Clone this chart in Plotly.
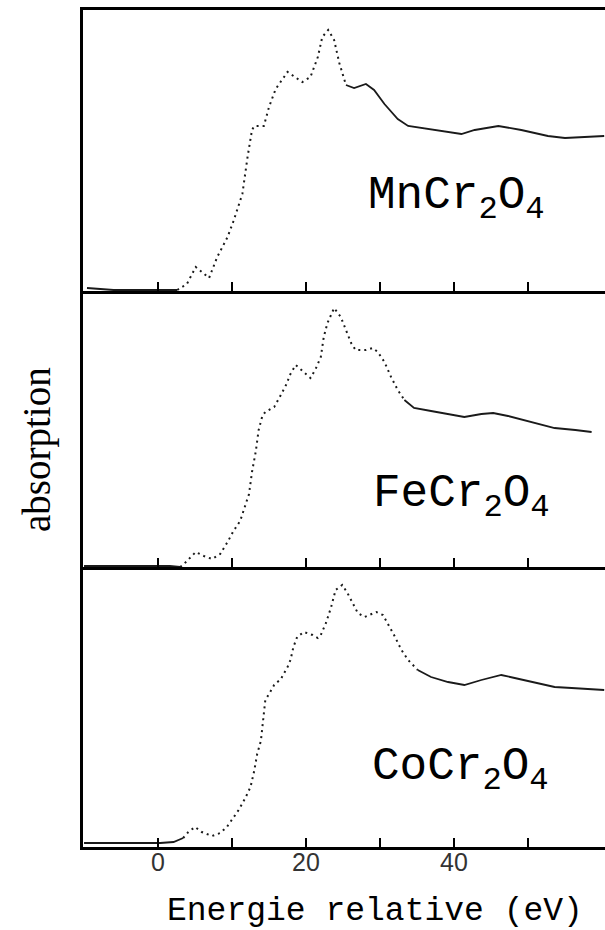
import plotly.graph_objects as go

# Cr K-edge XANES spectra of three chromite spinels (energy relative to edge, eV)
mn_energy = [-9.6, -6.0, 0.8, 2.6, 3.9, 5.1, 6.0, 6.9, 8.0, 9.4, 10.2, 11.4, 12.1, 12.7, 13.0,
             14.3, 15.0, 15.9, 17.5, 18.6, 19.5, 20.6, 21.6, 22.2, 23.0, 23.8, 24.5, 25.4,
             26.5, 28.1, 29.2, 30.6, 32.4, 33.8, 36.5, 39.2, 41.0, 42.8, 46.0, 49.1, 52.7,
             55.0, 60.3]
mn_absorb = [0.03, 0.01, 0.01, 0.01, 0.07, 0.24, 0.18, 0.13, 0.34, 0.54, 0.70, 0.97, 1.34, 1.61,
             1.65, 1.65, 1.84, 2.02, 2.19, 2.13, 2.09, 2.14, 2.34, 2.54, 2.61, 2.51, 2.28, 2.06,
             2.03, 2.07, 2.01, 1.87, 1.72, 1.65, 1.62, 1.59, 1.57, 1.61, 1.65, 1.61, 1.55,
             1.53, 1.55]

fe_energy = [-10.0, 1.6, 3.0, 3.5, 5.1, 6.2, 7.3, 8.4, 9.4, 10.2, 11.1, 11.8, 12.3, 12.7, 13.2,
             13.6, 14.1, 14.5, 15.7, 16.6, 17.3, 17.9, 18.6, 19.7, 20.6, 21.3, 22.0, 22.4,
             22.9, 23.8, 24.7, 25.4, 26.1, 26.7, 28.1, 29.0, 29.7, 30.6, 31.5, 32.4, 33.3,
             34.6, 36.9, 39.2, 41.4, 43.7, 45.3, 47.3, 50.5, 53.6, 56.4, 58.6]
fe_absorb = [0.01, 0.01, 0.00, 0.03, 0.15, 0.11, 0.08, 0.13, 0.25, 0.36, 0.46, 0.63, 0.73, 0.95,
             1.15, 1.37, 1.51, 1.55, 1.60, 1.72, 1.82, 1.93, 2.02, 1.95, 1.89, 1.98, 2.10, 2.30,
             2.44, 2.59, 2.50, 2.37, 2.24, 2.17, 2.17, 2.19, 2.15, 2.05, 1.90, 1.77, 1.67,
             1.59, 1.56, 1.53, 1.50, 1.53, 1.54, 1.51, 1.45, 1.39, 1.37, 1.35]

co_energy = [-10.0, -3.3, 0.3, 2.1, 3.4, 4.1, 5.0, 5.9, 7.3, 8.4, 9.3, 10.0, 10.9, 11.8, 12.5,
             13.0, 13.4, 13.9, 14.3, 14.5, 15.0, 15.7, 16.6, 17.5, 17.9, 18.3, 18.8, 19.7,
             20.9, 21.6, 22.0, 22.7, 23.4, 24.0, 24.9, 25.6, 26.3, 27.0, 27.9, 28.8, 29.5,
             30.4, 31.0, 31.9, 32.9, 33.8, 35.1, 36.9, 39.2, 41.4, 43.7, 46.4, 48.2, 50.5,
             53.6, 55.9, 60.3]
co_absorb = [0.04, 0.04, 0.04, 0.05, 0.09, 0.15, 0.20, 0.15, 0.11, 0.14, 0.20, 0.27, 0.37, 0.49,
             0.60, 0.76, 0.93, 1.06, 1.30, 1.47, 1.53, 1.62, 1.68, 1.80, 1.87, 2.00, 2.10, 2.15,
             2.12, 2.09, 2.12, 2.24, 2.40, 2.57, 2.62, 2.54, 2.44, 2.34, 2.30, 2.33, 2.35,
             2.32, 2.24, 2.12, 1.97, 1.87, 1.77, 1.70, 1.65, 1.62, 1.67, 1.72, 1.69, 1.65,
             1.60, 1.59, 1.57]

compounds = ["MnCr<sub>2</sub>O<sub>4</sub>", "FeCr<sub>2</sub>O<sub>4</sub>",
             "CoCr<sub>2</sub>O<sub>4</sub>"]
major_ticks = [0, 20, 40]
minor_ticks = [10, 30, 50]
x_title = "Energie relative (eV)"
y_title = "absorption"

# edge region drawn dotted (strip-chart look), the rest as a continuous trace
dotted_until = [25.4, 33.3, 34.6]
dotted_from = [2.6, 3.0, 3.4]

W, H = 605, 930
x_range = [-10.14, 60.41]
panels = [
    # (energies, absorbance, y domain, y range)
    (mn_energy, mn_absorb, [1 - 291 / H, 1 - 10 / H], [0, 2.81]),
    (fe_energy, fe_absorb, [1 - 567 / H, 1 - 291 / H], [0, 2.76]),
    (co_energy, co_absorb, [1 - 847 / H, 1 - 567 / H], [0, 2.80]),
]
label_pos = [(28.1, 0.92), (28.8, 0.70), (28.6, 0.77)]

fig = go.Figure()
ink = "#1a1a1a"

for i, (ex, ab, dom, yr) in enumerate(panels):
    sfx = "" if i == 0 else str(i + 1)
    xa, ya = "x" + sfx, "y" + sfx
    i0 = max(k for k, e in enumerate(ex) if e <= dotted_from[i])
    i1 = min(k for k, e in enumerate(ex) if e >= dotted_until[i])
    segments = [
        (ex[:i0 + 1], ab[:i0 + 1], "solid"),
        (ex[i0:i1 + 1], ab[i0:i1 + 1], "2px,4px"),
        (ex[i1:], ab[i1:], "solid"),
    ]
    for sx, sy, dash in segments:
        fig.add_trace(go.Scatter(
            x=sx, y=sy, xaxis=xa, yaxis=ya, mode="lines",
            line=dict(color=ink, width=2 if dash != "solid" else 1.8, dash=dash),
            showlegend=False, hoverinfo="skip"))

    last = i == len(panels) - 1
    fig.layout["xaxis" + sfx] = dict(
        domain=[0, 1], range=x_range, anchor=ya,
        showline=True, linecolor="black", linewidth=2.5, mirror=(i == 0),
        tickmode="array", tickvals=major_ticks,
        ticks="inside", ticklen=9, tickwidth=2, tickcolor="black",
        minor=dict(tickmode="array", tickvals=minor_ticks, ticks="inside",
                   ticklen=9, tickwidth=2, tickcolor="black", showgrid=False),
        showticklabels=last, showgrid=False, zeroline=False,
        tickfont=dict(family="Liberation Sans", size=25, color="#333333"),
        ticklabelstandoff=-9,
    )
    fig.layout["yaxis" + sfx] = dict(
        domain=dom, range=yr, anchor=xa,
        showline=True, linecolor="black", linewidth=2.5,
        ticks="", showticklabels=False, showgrid=False, zeroline=False,
    )
    lx, ly = label_pos[i]
    fig.add_annotation(
        x=lx, y=ly, xref=xa, yref=ya, text=compounds[i], showarrow=False,
        xanchor="left", yanchor="middle",
        font=dict(family="Liberation Mono", size=46, color="black"))

fig.add_annotation(
    x=(375 - 83) / 522, y=1 - 911 / H, xref="paper", yref="paper",
    text=x_title, showarrow=False, xanchor="center", yanchor="middle",
    font=dict(family="Liberation Mono", size=33, color="black"))
fig.add_annotation(
    x=(37 - 83) / 522, y=1 - 450 / H, xref="paper", yref="paper",
    text=y_title, showarrow=False, textangle=-90,
    xanchor="center", yanchor="middle",
    font=dict(family="Liberation Serif", size=39, color="black"))

fig.update_layout(
    width=W, height=H,
    margin=dict(l=83, r=0, t=0, b=0),
    paper_bgcolor="white", plot_bgcolor="white",
    showlegend=False,
)

fig.write_html("out.html")
